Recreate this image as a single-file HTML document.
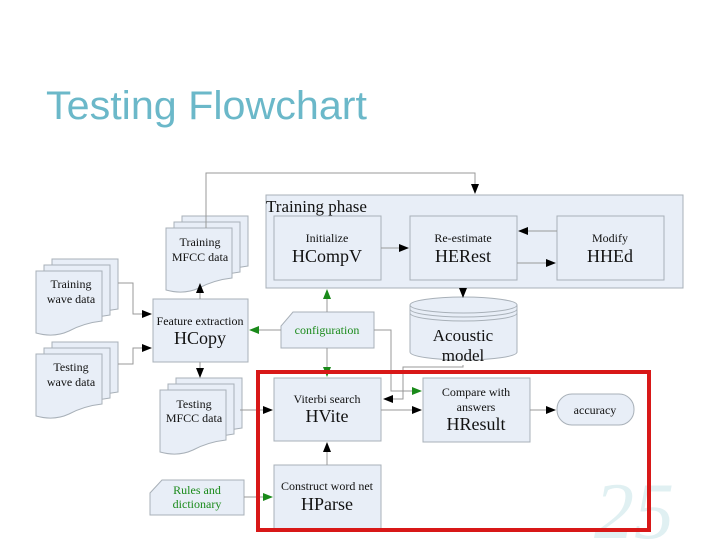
<!DOCTYPE html>
<html><head><style>body{margin:0;background:#fff}svg{display:block}</style></head><body>
<svg width="720" height="540" viewBox="0 0 720 540" xmlns="http://www.w3.org/2000/svg" font-family="Liberation Serif, serif">
<defs>
<marker id="a" markerWidth="10" markerHeight="8" refX="9" refY="4" orient="auto" markerUnits="userSpaceOnUse"><path d="M0,0L10,4L0,8z" fill="#000"/></marker>
<marker id="g" markerWidth="10" markerHeight="8" refX="9" refY="4" orient="auto" markerUnits="userSpaceOnUse"><path d="M0,0L10,4L0,8z" fill="#1a8a1a"/></marker>
</defs>
<text x="46" y="119" font-family="Liberation Sans, sans-serif" font-size="40" fill="#6bb8c9" textLength="321" lengthAdjust="spacingAndGlyphs">Testing Flowchart</text>
<text x="594" y="538" font-size="80" fill="#e0f0f2" font-style="italic">25</text>
<g stroke="#a8b0b8" fill="#e8eef7" stroke-width="1">
<rect x="266" y="195" width="417" height="93"/>
<rect x="274" y="216" width="107" height="64"/>
<rect x="410" y="216" width="107" height="64"/>
<rect x="557" y="216" width="107" height="64"/>
<rect x="153" y="299" width="95" height="63"/>
<rect x="274" y="378" width="107" height="63"/>
<rect x="274" y="465" width="107" height="65"/>
<rect x="423" y="378" width="107" height="64"/>
<rect x="557" y="394" width="77" height="31" rx="15"/>
<path d="M281,348V326L293,312H374V348Z"/>
<path d="M150,515V493L162,480H244V515Z"/>
<path d="M410,305V352A53.5,8 0 0 0 517,352V305"/>
<ellipse cx="463.5" cy="305" rx="53.5" ry="8"/>
<path d="M410,309A53.5,8 0 0 0 517,309" fill="none"/>
<path d="M410,313A53.5,8 0 0 0 517,313" fill="none"/>
</g>
<g stroke="#a8b0b8" fill="#e8eef7">
<path d="M182,216H248V266Q230,268 215,276Q200,283 182,278Z"/>
<path d="M174,222H240V272Q222,274 207,282Q192,289 174,284Z"/>
<path d="M166,228H232V278Q214,280 199,288Q184,295 166,290Z"/>
<path d="M52,259H118V309Q100,311 85,319Q70,326 52,321Z"/>
<path d="M44,265H110V315Q92,317 77,325Q62,332 44,327Z"/>
<path d="M36,271H102V321Q84,323 69,331Q54,338 36,333Z"/>
<path d="M52,342H118V392Q100,394 85,402Q70,409 52,404Z"/>
<path d="M44,348H110V398Q92,400 77,408Q62,415 44,410Z"/>
<path d="M36,354H102V404Q84,406 69,414Q54,421 36,416Z"/>
<path d="M176,378H242V428Q224,430 209,438Q194,445 176,440Z"/>
<path d="M168,384H234V434Q216,436 201,444Q186,451 168,446Z"/>
<path d="M160,390H226V440Q208,442 193,450Q178,457 160,452Z"/>
</g>
<g fill="none" stroke="#999" stroke-width="1">
<path d="M206,228V173H475V193" marker-end="url(#a)"/>
<path d="M118,283H133V314H151" marker-end="url(#a)"/>
<path d="M118,364H133V348H151" marker-end="url(#a)"/>
<path d="M200,299V284" marker-end="url(#a)"/>
<path d="M200,362V377" marker-end="url(#a)"/>
<path d="M381,248H408" marker-end="url(#a)"/>
<path d="M557,231H519" marker-end="url(#a)"/>
<path d="M517,263H555" marker-end="url(#a)"/>
<path d="M463,288V297" marker-end="url(#a)"/>
<path d="M240,410H272" marker-end="url(#a)"/>
<path d="M327,465V443" marker-end="url(#a)"/>
<path d="M381,410H421" marker-end="url(#a)"/>
<path d="M530,410H555" marker-end="url(#a)"/>
<path d="M463,365V367H403V399H384" marker-end="url(#a)"/>
<path d="M281,330H250" marker-end="url(#g)"/>
<path d="M327,312V290" marker-end="url(#g)"/>
<path d="M327,348V376" marker-end="url(#g)"/>
<path d="M374,330H391V391H421" marker-end="url(#g)"/>
<path d="M244,497H272" marker-end="url(#g)"/>
</g>
<rect x="258" y="372" width="391" height="158" fill="none" stroke="#d81818" stroke-width="4"/>
<g text-anchor="middle" fill="#111">
<text x="266" y="212" text-anchor="start" font-size="17">Training phase</text>
<text x="327" y="242" font-size="12">Initialize</text><text x="327" y="262" font-size="18">HCompV</text>
<text x="463" y="242" font-size="12">Re-estimate</text><text x="463" y="262" font-size="18">HERest</text>
<text x="610" y="242" font-size="12">Modify</text><text x="610" y="262" font-size="18">HHEd</text>
<text x="200" y="325" font-size="12">Feature extraction</text><text x="200" y="344" font-size="18">HCopy</text>
<text x="327" y="403" font-size="12">Viterbi search</text><text x="327" y="422" font-size="18">HVite</text>
<text x="327" y="490" font-size="12">Construct word net</text><text x="327" y="510" font-size="18">HParse</text>
<text x="476" y="396" font-size="12">Compare with</text><text x="476" y="411" font-size="12">answers</text><text x="476" y="430" font-size="18">HResult</text>
<text x="595" y="414" font-size="12">accuracy</text>
<text x="463" y="341" font-size="17">Acoustic</text><text x="463" y="361" font-size="17">model</text>
<text x="200" y="246" font-size="12">Training</text><text x="200" y="261" font-size="12">MFCC data</text>
<text x="71" y="288" font-size="12">Training</text><text x="71" y="303" font-size="12">wave data</text>
<text x="71" y="371" font-size="12">Testing</text><text x="71" y="386" font-size="12">wave data</text>
<text x="194" y="408" font-size="12">Testing</text><text x="194" y="422" font-size="12">MFCC data</text>
<text x="327" y="334" font-size="12" fill="#1a8a1a">configuration</text>
<text x="197" y="494" font-size="12" fill="#1a8a1a">Rules and</text><text x="197" y="508" font-size="12" fill="#1a8a1a">dictionary</text>
</g>
</svg>
</body></html>
